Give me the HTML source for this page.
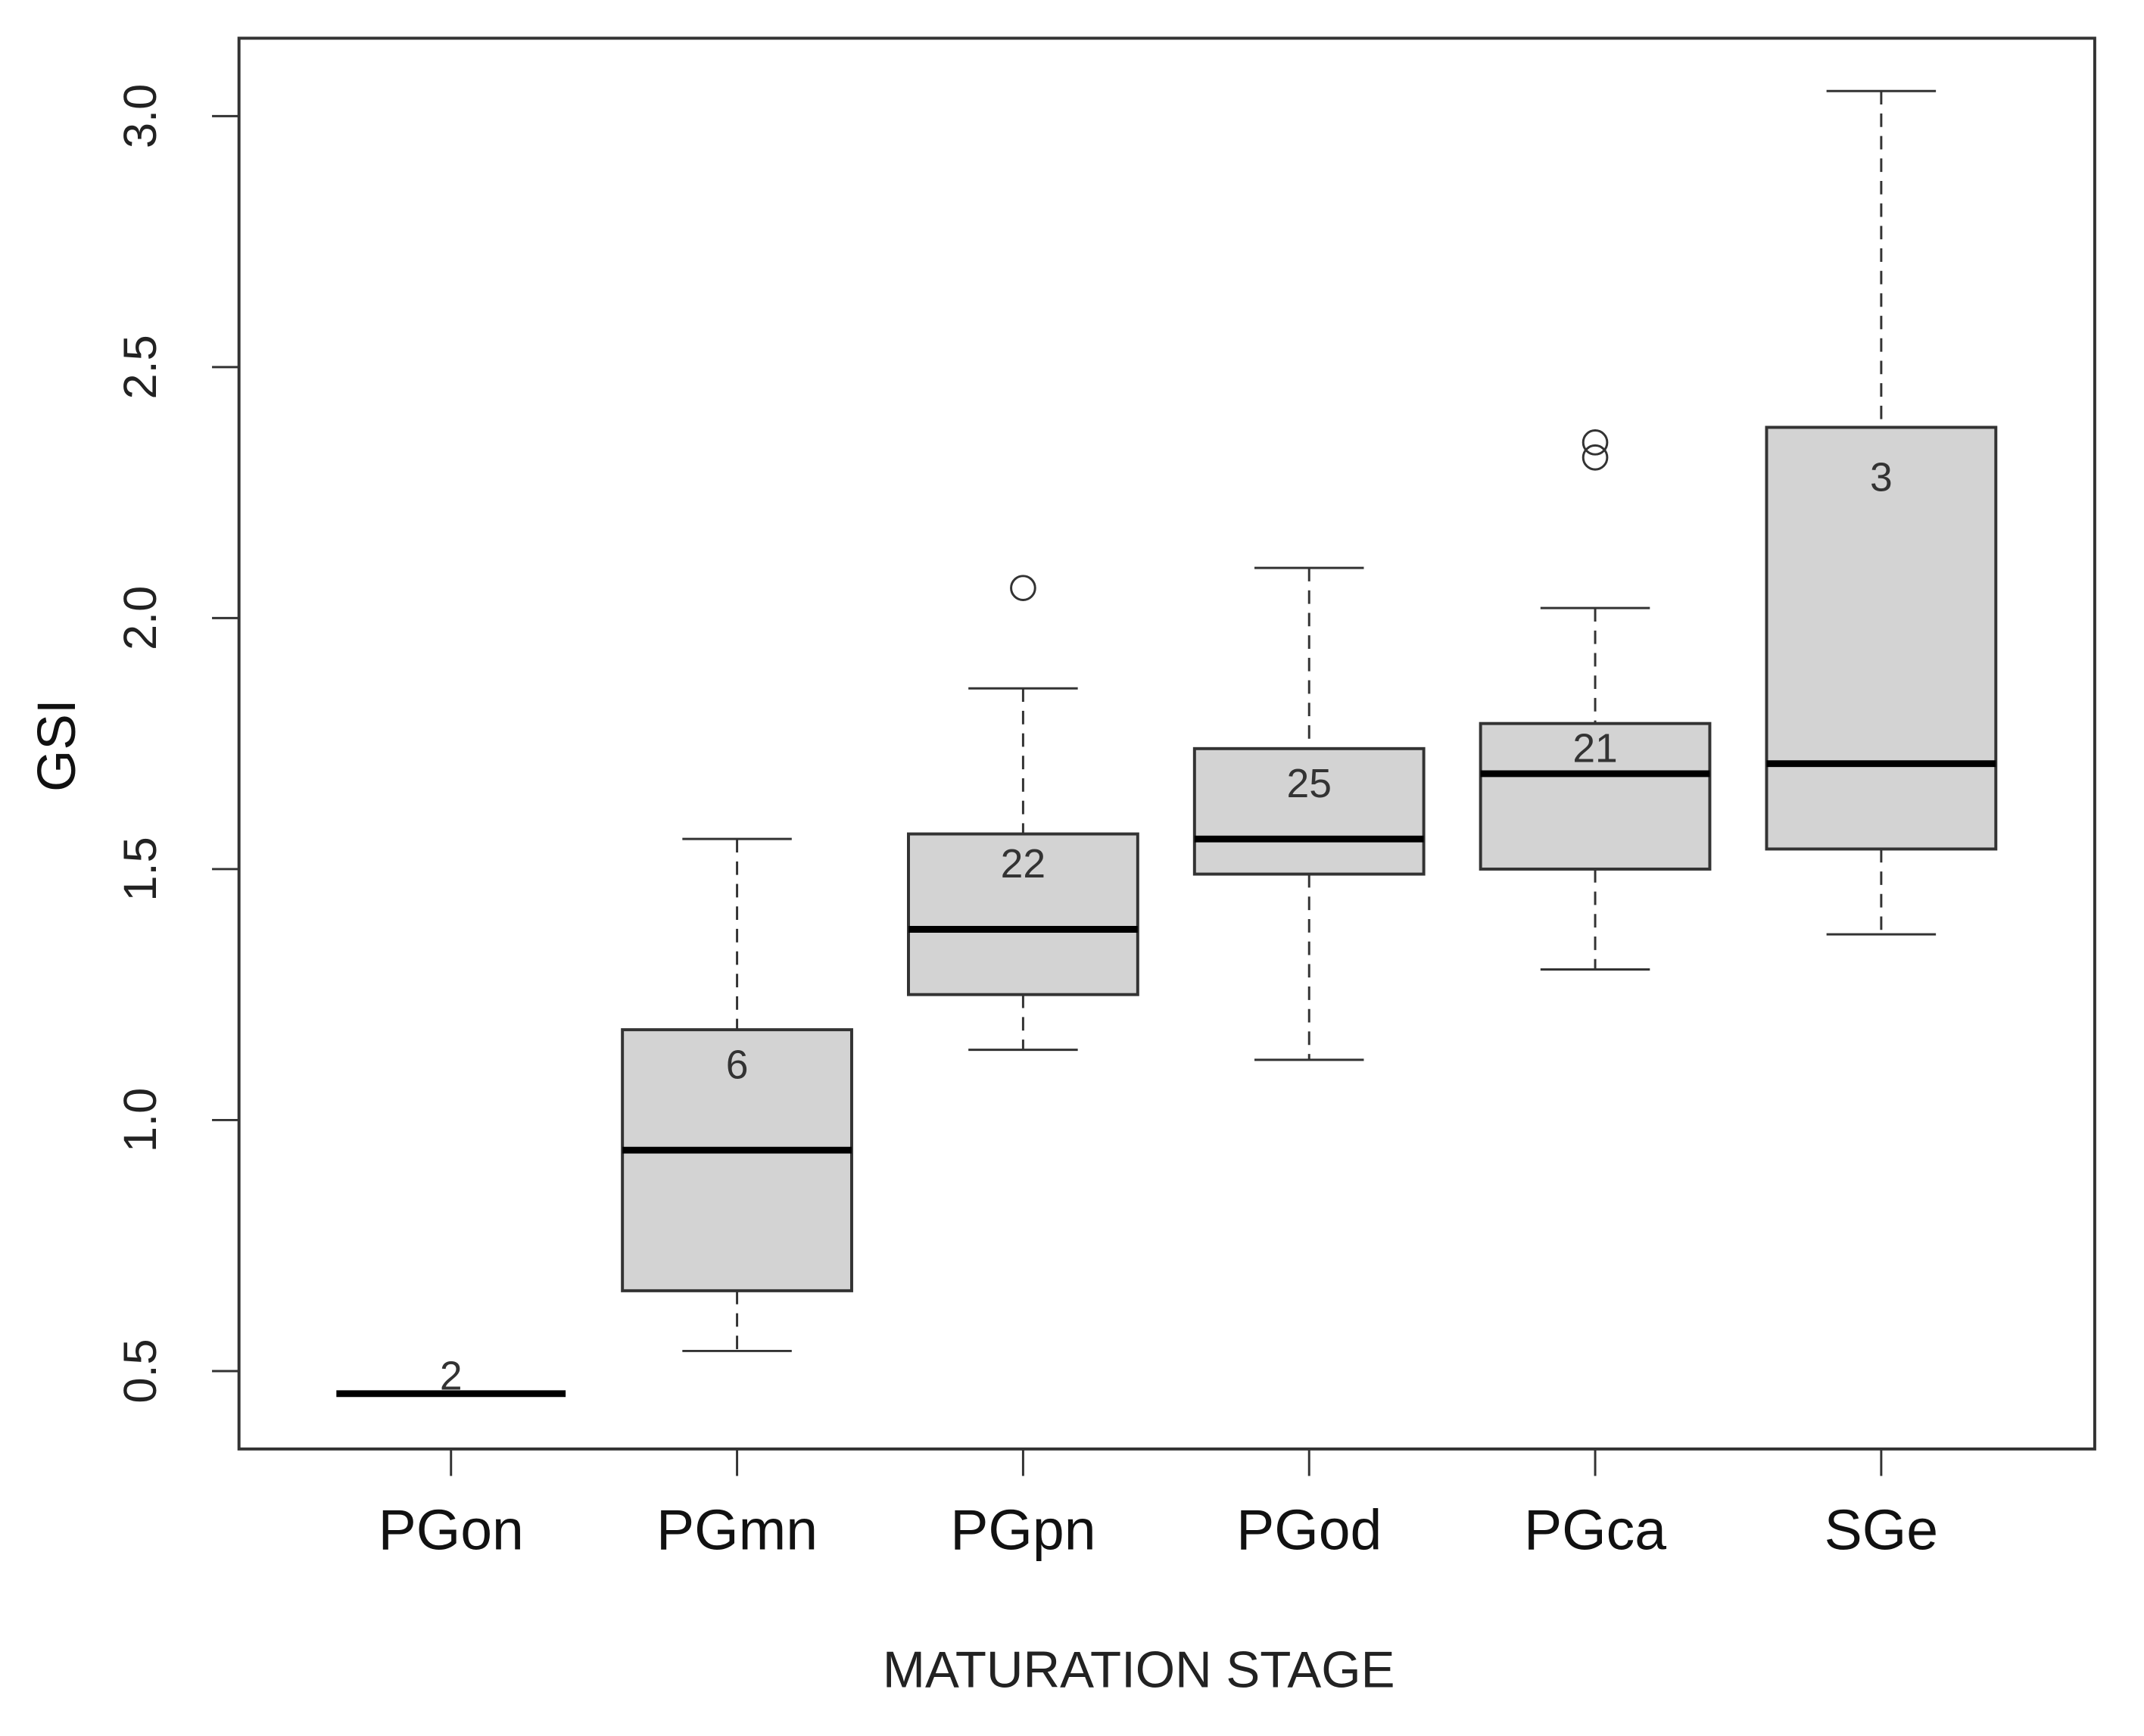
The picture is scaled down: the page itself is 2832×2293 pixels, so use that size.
<!DOCTYPE html>
<html><head><meta charset="utf-8"><style>
html,body{margin:0;padding:0;background:#fff}
svg{display:block}
text{font-family:"Liberation Sans",sans-serif}
</style></head><body>
<svg id="chart" width="2832" height="2293" viewBox="0 0 2832 2293" xmlns="http://www.w3.org/2000/svg">
<g transform="scale(0.9896)">
<rect x="319" y="51" width="2477" height="1883" fill="none" stroke="#333" stroke-width="4"/>
<g id="yaxis"></g>
<g id="xaxis"></g>
<g id="boxes"></g>
<text x="0" y="0" transform="translate(100,995) rotate(-90)" text-anchor="middle" font-size="72" fill="#111">GSI</text>
<text x="1520" y="2252" text-anchor="middle" font-size="68" fill="#222">MATURATION STAGE</text>
</g>
</svg>
<script>
const categories = ["PGon","PGmn","PGpn","PGod","PGca","SGe"];
const q1Values = [0.455,0.66,1.25,1.49,1.50,1.54];
const medianValues = [0.455,0.94,1.38,1.56,1.69,1.71];
const q3Values = [0.455,1.18,1.57,1.74,1.79,2.38];
const whiskerLow = [0.455,0.54,1.14,1.12,1.30,1.37];
const whiskerHigh = [0.455,1.56,1.86,2.10,2.02,3.05];
const outliers = [[],[],[2.06],[],[2.32,2.35],[]];
const countLabels = ["2","6","22","25","21","3"];
const countLabelValues = [0.49,1.11,1.51,1.67,1.74,2.28];
const yTicks = [0.5,1.0,1.5,2.0,2.5,3.0];
const yTickLabels = ["0.5","1.0","1.5","2.0","2.5","3.0"];

const NS="http://www.w3.org/2000/svg";
function y(v){return 1830-(v-0.5)*670;}
function x(i){return 602+i*381.8;}
function mk(tag,attrs,parent){const e=document.createElementNS(NS,tag);for(const k in attrs)e.setAttribute(k,attrs[k]);parent.appendChild(e);return e;}
const ya=document.getElementById('yaxis'),xa=document.getElementById('xaxis'),bx=document.getElementById('boxes');
yTicks.forEach((t,i)=>{
  const l=mk('line',{x1:283,x2:319,y1:y(t),y2:y(t),stroke:'#333','stroke-width':3},ya);
  
  
  const tx=mk('text',{transform:`translate(208,${y(t)}) rotate(-90)`,'text-anchor':'middle','font-size':62,fill:'#222'},ya);
  tx.textContent=yTickLabels[i];
  
  
});
categories.forEach((c,i)=>{
  const cx=x(i);
  const l=mk('line',{x1:cx,x2:cx,y1:1934,y2:1970,stroke:'#333','stroke-width':3},xa);
  
  
  const tx=mk('text',{x:cx,y:2068,'text-anchor':'middle','font-size':76,fill:'#111'},xa);
  tx.textContent=c;
  
  
  const g=mk('g',{},bx);
  
  
  const hw=153,cw=73;
  if(whiskerHigh[i]>q3Values[i]){
    mk('line',{x1:cx,x2:cx,y1:y(whiskerHigh[i]),y2:y(q3Values[i]),stroke:'#333','stroke-width':3,'stroke-dasharray':'18,12'},g);
    mk('line',{x1:cx-cw,x2:cx+cw,y1:y(whiskerHigh[i]),y2:y(whiskerHigh[i]),stroke:'#333','stroke-width':3},g);
  }
  if(whiskerLow[i]<q1Values[i]){
    mk('line',{x1:cx,x2:cx,y1:y(q1Values[i]),y2:y(whiskerLow[i]),stroke:'#333','stroke-width':3,'stroke-dasharray':'18,12'},g);
    mk('line',{x1:cx-cw,x2:cx+cw,y1:y(whiskerLow[i]),y2:y(whiskerLow[i]),stroke:'#333','stroke-width':3},g);
  }
  if(q3Values[i]>q1Values[i]){
    mk('rect',{x:cx-hw,y:y(q3Values[i]),width:hw*2,height:y(q1Values[i])-y(q3Values[i]),fill:'#d3d3d3',stroke:'#333','stroke-width':4},g);
  }
  mk('line',{x1:cx-hw,x2:cx+hw,y1:y(medianValues[i]),y2:y(medianValues[i]),stroke:'#000','stroke-width':9},g);
  outliers[i].forEach(o=>{
    const p=mk('circle',{cx:cx,cy:y(o),r:16,fill:'none',stroke:'#333','stroke-width':3},g);
    
    
  });
  const ct=mk('text',{x:cx,y:y(countLabelValues[i])+18,'text-anchor':'middle','font-size':54,fill:'#333'},g);
  ct.textContent=countLabels[i];
  
  
});
</script>
</body></html>
